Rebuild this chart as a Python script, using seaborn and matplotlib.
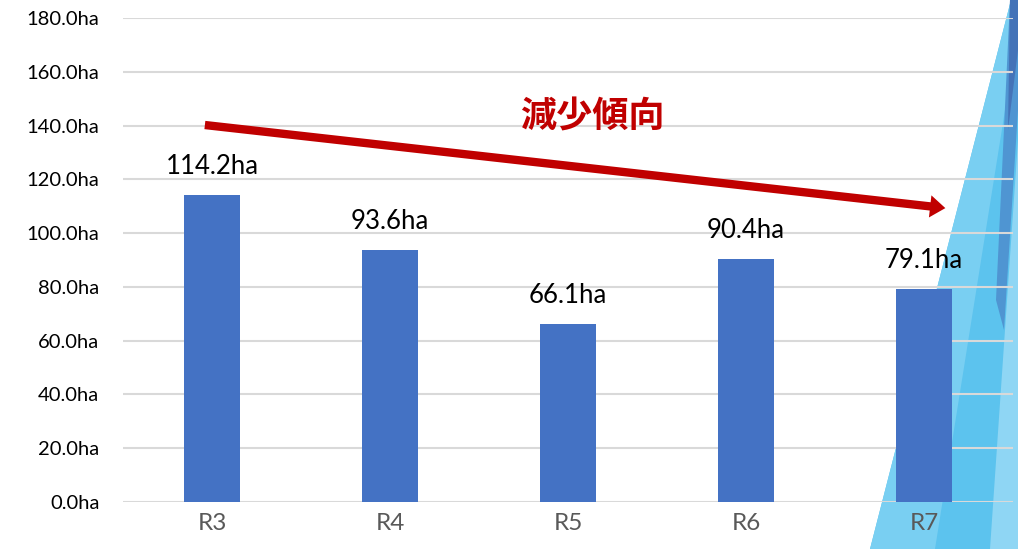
import matplotlib
matplotlib.use("Agg")
import matplotlib.pyplot as plt
import seaborn as sns
import pandas as pd
from matplotlib.patches import Polygon

# ── Data
years = ["R3", "R4", "R5", "R6", "R7"]
area_ha = [114.2, 93.6, 66.1, 90.4, 79.1]
y_ticks = [0, 20, 40, 60, 80, 100, 120, 140, 160, 180]

df = pd.DataFrame({"year": years, "area": area_ha})

sns.set_theme(style="white")
plt.rcParams["font.family"] = ["Lato", "Noto Sans CJK JP", "DejaVu Sans"]

W, H = 1018, 549
fig = plt.figure(figsize=(W / 100, H / 100), dpi=100)
ax = fig.add_axes([123 / W, 47 / H, 890 / W, 484 / H])


def px(pts):
    # pixel coords (top-left origin) -> figure fraction
    return [(x / W, 1 - y / H) for x, y in pts]


# ── Decorative blue triangles on the right (slide background)
deco = [
    ([(1011, 0), (870, 549), (1018, 549), (1018, 0)], "#5cc3ee"),
    ([(1011, 0), (870, 549), (935, 549), (1013, 60)], "#79cff2"),
    ([(990, 549), (1018, 549), (1018, 140)], "#8fd6f4"),
    ([(1010, 0), (1018, 0), (1018, 110), (1004, 330), (996, 300)], "#4f95d2"),
    ([(1010, 0), (1018, 0), (1018, 50), (1008, 130)], "#4473b8"),
]
for pts, col in deco:
    fig.patches.append(Polygon(px(pts), closed=True, transform=fig.transFigure,
                               facecolor=col, edgecolor="none", zorder=-1))

ax.set_facecolor("none")
sns.barplot(data=df, x="year", y="area", color="#4472C4", width=0.31,
            saturation=1, linewidth=0, ax=ax, zorder=3)

for i, v in enumerate(area_ha):
    ax.text(i, v + 6, f"{v:.1f}ha", ha="center", va="bottom",
            fontsize=18.5, color="black", zorder=5)

ax.set_ylim(0, 180)
ax.set_xlim(-0.5, 4.5)
ax.set_yticks(y_ticks)
ax.set_yticklabels([f"{t:.1f}ha" for t in y_ticks], fontsize=14.5, color="black")
ax.tick_params(axis="x", labelsize=17.5, labelcolor="#595959", pad=8, length=0)
ax.tick_params(axis="y", pad=17, length=0)
ax.yaxis.grid(True, color="#d9d9d9", linewidth=1.5, zorder=0)
ax.set_axisbelow(True)
ax.set_xlabel("")
ax.set_ylabel("")
for s in ax.spines.values():
    s.set_visible(False)

# ── Trend arrow and label
ax.annotate("", xy=(4.12, 109.3), xytext=(-0.04, 140.2),
            arrowprops=dict(width=6, headwidth=16, headlength=11, shrink=0,
                            facecolor="#C00000", edgecolor="none"),
            zorder=6)
ax.text(2.135, 143.2, "減少傾向", ha="center", va="center", fontsize=26,
        fontweight="bold", color="#C00000",
        family=["Noto Sans CJK JP", "DejaVu Sans"], zorder=6)

fig.savefig("out.png", dpi=100)
